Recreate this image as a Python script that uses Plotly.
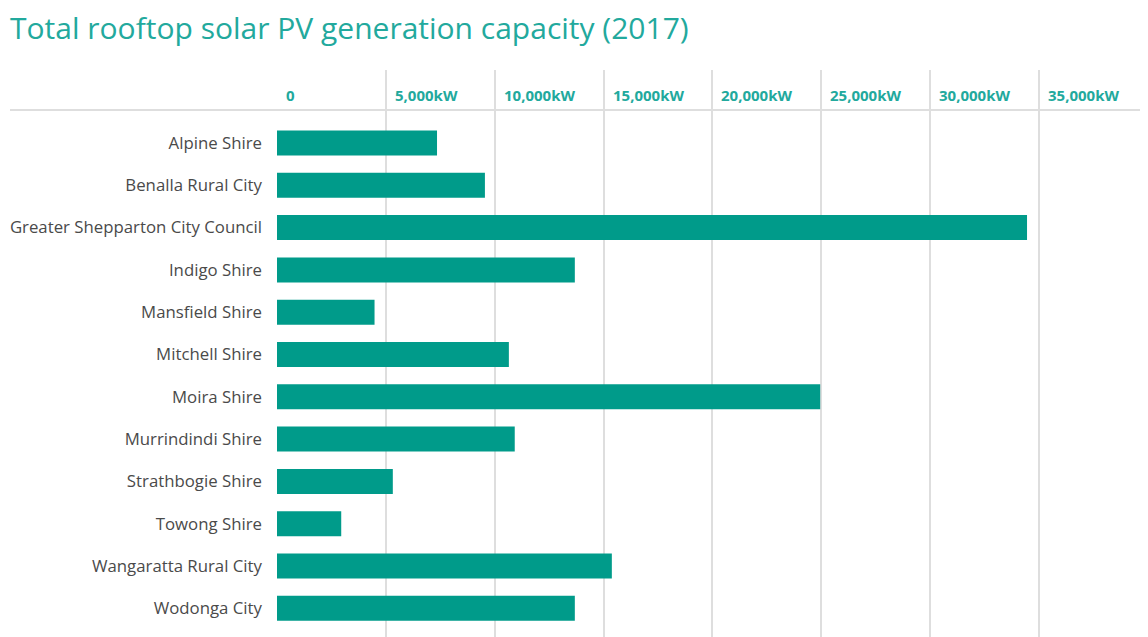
import plotly.graph_objects as go

councils = [
    "Alpine Shire", "Benalla Rural City", "Greater Shepparton City Council",
    "Indigo Shire", "Mansfield Shire", "Mitchell Shire", "Moira Shire",
    "Murrindindi Shire", "Strathbogie Shire", "Towong Shire",
    "Wangaratta Rural City", "Wodonga City",
]
capacity_kw = [7350, 9550, 34450, 13680, 4480, 10650, 24950, 10920, 5320, 2950, 15380, 13680]
tick_values = [0, 5000, 10000, 15000, 20000, 25000, 30000, 35000]
tick_labels = ["0", "5,000kW", "10,000kW", "15,000kW", "20,000kW", "25,000kW", "30,000kW", "35,000kW"]

OFF = 8  # page body margin
VW, VH = 1148, 637
W, H = VW - OFF, VH - OFF
L, T = 277 - OFF, 70 - OFF
plot_h = H - T
pitch = 42.3
bar_color = "#009b8a"
teal_text = "#22a99d"

fig = go.Figure(go.Bar(
    x=capacity_kw, y=list(range(len(councils))), orientation="h",
    marker=dict(color=bar_color, line=dict(width=0)),
    width=0.59, hoverinfo="x+text", text=councils, textposition="none",
))

top = -((143 - OFF) - T) / pitch
bottom = top + plot_h / pitch

annotations = []
for v, lab in zip(tick_values, tick_labels):
    annotations.append(dict(
        x=v, xref="x", y=1 - ((95 - OFF) - T) / plot_h, yref="paper",
        text=lab, showarrow=False, xanchor="left", yanchor="middle", xshift=7,
        font=dict(family="Open Sans", size=15, color=teal_text, weight="bold"),
    ))

line_y = 1 - ((110 - OFF) - T) / plot_h

fig.update_layout(
    width=W, height=H,
    margin=dict(l=L, r=0, t=T, b=0),
    paper_bgcolor="white", plot_bgcolor="white",
    showlegend=False,
    title=dict(
        text="Total rooftop solar PV generation capacity (2017)",
        x=(10 - OFF) / W, xanchor="left", xref="container",
        y=1 - (28 - OFF) / H, yanchor="middle",
        font=dict(family="Open Sans", size=30, color=teal_text),
    ),
    xaxis=dict(
        range=[0, (W - L) / (762 / 35000)], tickvals=tick_values,
        showticklabels=False, showgrid=True, gridcolor="#dedede", gridwidth=2,
        zeroline=False, showline=False, fixedrange=True,
    ),
    yaxis=dict(
        range=[bottom, top], tickvals=list(range(len(councils))), ticktext=councils,
        showgrid=False, zeroline=False, showline=False, ticks="",
        ticklabelstandoff=14,
        tickfont=dict(family="Open Sans", size=16.8, color="#4a4a4a"),
        fixedrange=True,
    ),
    annotations=annotations,
    shapes=[dict(
        type="line", xref="paper", yref="paper",
        x0=(10 - 277) / (W - L), x1=1, y0=line_y, y1=line_y,
        line=dict(color="#dedede", width=2), layer="below",
    )],
)

fig.write_html("out.html")
